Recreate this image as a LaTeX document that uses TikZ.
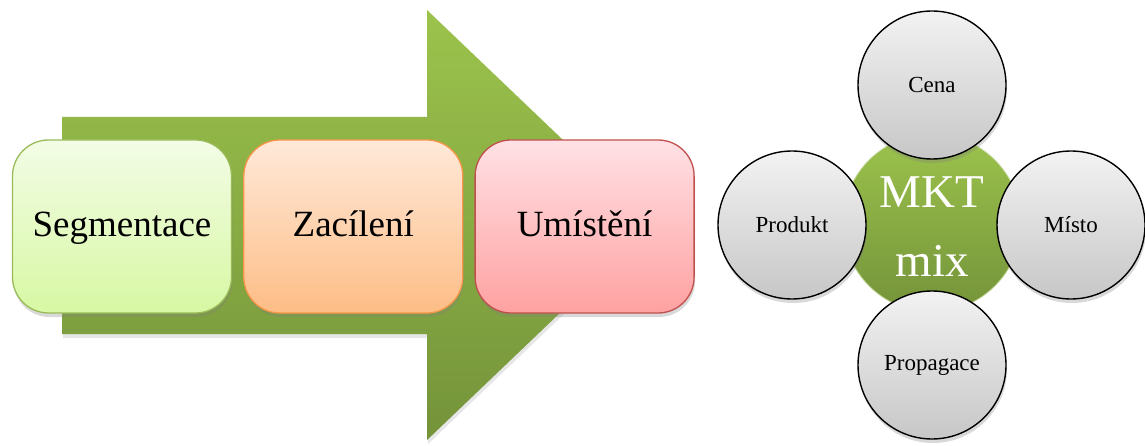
\documentclass[tikz,border=0pt]{standalone}
\usepackage{fontspec}
\setmainfont{Liberation Serif}
\usetikzlibrary{positioning,shadows}
\definecolor{artop}{HTML}{9CC34C}
\definecolor{arbot}{HTML}{74933A}
\definecolor{sgd}{HTML}{9BBB59}
\definecolor{sgt}{HTML}{F3FCE6}
\definecolor{sgb}{HTML}{D7F8A3}
\definecolor{zcd}{HTML}{F79646}
\definecolor{zct}{HTML}{FFE9D9}
\definecolor{zcb}{HTML}{FDBD86}
\definecolor{umd}{HTML}{C0504D}
\definecolor{umt}{HTML}{FFE1E5}
\definecolor{umb}{HTML}{FFA1A1}
\tikzset{bx/.style n args={3}{rectangle, rounded corners=36pt, minimum width=219pt, minimum height=173pt,
            line width=1.3pt, draw=#1, top color=#2, bottom color=#3,
            font=\fontsize{37}{43}\selectfont, text height=25pt, text depth=4pt,
            drop shadow={shadow xshift=1pt, shadow yshift=-4pt, opacity=0.3}},
         cr/.style={circle, minimum size=148pt, inner sep=0pt, line width=1.4pt, draw=black,
            top color=black!5, bottom color=black!22, font=\fontsize{23}{27}\selectfont,
            drop shadow={shadow xshift=1pt, shadow yshift=-4pt, opacity=0.3}}}

\begin{document}
\begin{tikzpicture}[x=1pt, y=1pt]
\useasboundingbox (0,0) rectangle (1145,445);
% arrow behind the boxes
\path[top color=artop, bottom color=arbot, drop shadow={shadow xshift=1pt, shadow yshift=-4pt, opacity=0.2}]
  (62,111) -- (62,328) -- (427,328) -- (427,435) -- (652,220) -- (427,5) -- (427,111) -- cycle;
\node[bx={sgd}{sgt}{sgb}] (seg) at (122,218.5) {Segmentace};
\node[bx={zcd}{zct}{zcb}, right=11pt of seg] (zac) {Zacílení};
\node[bx={umd}{umt}{umb}, right=11pt of zac] (umi) {Umístění};
% MKT mix
\node[circle, minimum size=178pt, top color=artop, bottom color=arbot, draw=sgd!60, line width=0.8pt] (mkt) at (932,222) {};
\node[align=center, text=white, font=\fontsize{47}{69}\selectfont] (mkttxt) at (932,218) {MKT\\mix};
\node[cr] (cena) at (932,360) {Cena};
\node[cr] (prop) at (932,80) {Propagace};
\node[cr] (prod) at (792,220) {Produkt};
\node[cr] (mist) at (1071,220) {Místo};
\end{tikzpicture}
\end{document}
